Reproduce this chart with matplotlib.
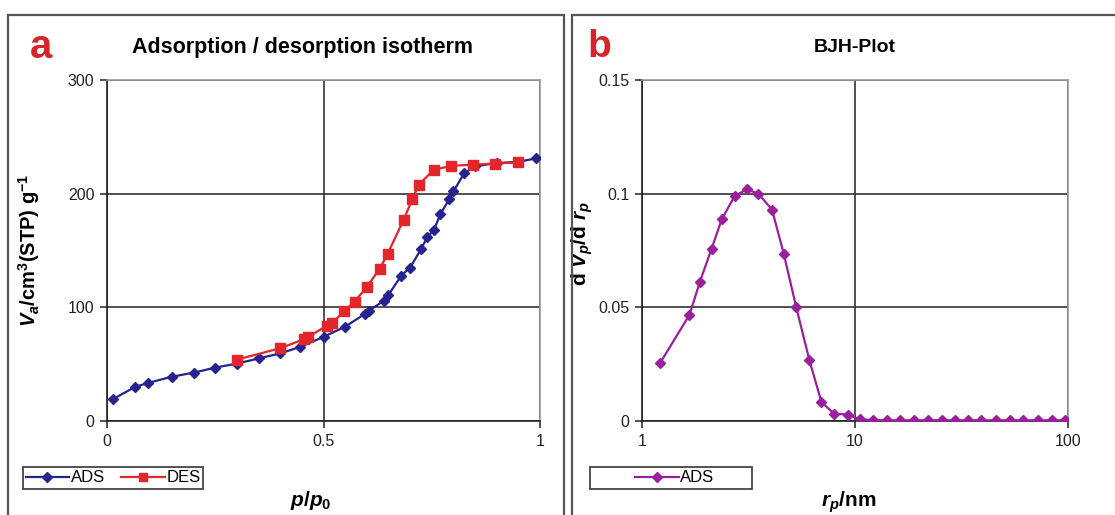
import matplotlib
matplotlib.use("Agg")
import matplotlib.pyplot as plt
from matplotlib.lines import Line2D
from matplotlib.patches import Rectangle

plt.rcParams["font.family"] = ["Liberation Sans", "DejaVu Sans"]
plt.rcParams["mathtext.fontset"] = "custom"
plt.rcParams["mathtext.rm"] = "Liberation Sans:bold"
plt.rcParams["mathtext.it"] = "Liberation Sans:bold:italic"
plt.rcParams["mathtext.bf"] = "Liberation Sans:bold"

# panel a: adsorption / desorption isotherm
ads_p = [0.015, 0.065, 0.095, 0.15, 0.2, 0.25, 0.3, 0.35, 0.4, 0.445, 0.5, 0.55,
         0.595, 0.605, 0.64, 0.65, 0.68, 0.7, 0.725, 0.74, 0.755, 0.77, 0.79, 0.8,
         0.825, 0.85, 0.9, 0.95, 0.99]
ads_v = [19.5, 30, 33.5, 39, 42.5, 47, 50.5, 55, 59.5, 65, 74, 83,
         94, 97, 106, 111, 128, 135, 151, 162, 168, 182, 195, 202,
         218, 224, 227, 228, 231]
des_p = [0.95, 0.895, 0.845, 0.795, 0.755, 0.72, 0.705, 0.685, 0.648, 0.63, 0.6,
         0.572, 0.547, 0.52, 0.508, 0.465, 0.455, 0.4, 0.3]
des_v = [227.5, 226.5, 225.5, 224.5, 221, 208, 195, 177, 147, 134, 118,
         105, 96.5, 86, 84, 74, 72, 64, 54]

# panel b: BJH pore size distribution
bjh_r = [1.22, 1.67, 1.87, 2.12, 2.37, 2.72, 3.1, 3.52, 4.08, 4.63, 5.29, 6.11,
         6.96, 7.98, 9.27, 10.5, 12.2, 14.1, 16.3, 19.0, 22.1, 25.5, 29.4, 33.9,
         39.2, 45.9, 53.5, 61.8, 72.1, 83.9, 97.0]
bjh_d = [0.0257, 0.0467, 0.0612, 0.0757, 0.0888, 0.0989, 0.1019, 0.1, 0.0929, 0.0735,
         0.0503, 0.0267, 0.0083, 0.0032, 0.0028, 0.0007, 0.0004, 0.0003, 0.0003, 0.0003,
         0.0003, 0.0003, 0.0003, 0.0003, 0.0003, 0.0003, 0.0003, 0.0003, 0.0003, 0.0003,
         0.0003]

a_xticks = [0, 0.5, 1]
a_xlabels = ["0", "0.5", "1"]
a_yticks = [0, 100, 200, 300]
a_ylabels = ["0", "100", "200", "300"]
b_xticks = [1, 10, 100]
b_xlabels = ["1", "10", "100"]
b_yticks = [0, 0.05, 0.1, 0.15]
b_ylabels = ["0", "0.05", "0.1", "0.15"]

BLUE = "#26238f"
RED = "#e3262c"
PURPLE = "#9a1f9c"
W, H = 1115, 515

fig = plt.figure(figsize=(W / 100, H / 100), dpi=100)
fig.patch.set_facecolor("white")

# panel frames
for x0, x1 in [(8, 564), (572, 1125)]:
    fig.add_artist(Rectangle((x0 / W, -0.05), (x1 - x0) / W, 1.05 - 15 / H,
                             transform=fig.transFigure, fill=False,
                             edgecolor="#555555", lw=1.6))


def style(ax):
    ax.grid(True, color="#333333", lw=1.2)
    ax.set_axisbelow(True)
    for s in ["left", "bottom"]:
        ax.spines[s].set_color("#222222")
        ax.spines[s].set_linewidth(1.2)
    for s in ["top", "right"]:
        ax.spines[s].set_color("#999999")
        ax.spines[s].set_linewidth(1.2)
    ax.tick_params(direction="out", length=5, width=1.1, colors="#222222",
                   labelsize=11.5, pad=4)
    ax.tick_params(which="minor", length=0)


ax1 = fig.add_axes([107 / W, 1 - 421 / H, 433 / W, 341 / H])
ax1.plot(ads_p, ads_v, color=BLUE, lw=1.6, marker="D", ms=5.5, zorder=3)
ax1.plot(des_p, des_v, color=RED, lw=1.6, marker="s", ms=6.5, zorder=4)
ax1.set_xlim(0, 1)
ax1.set_ylim(0, 300)
ax1.set_xticks(a_xticks, a_xlabels)
ax1.set_yticks(a_yticks, a_ylabels)
style(ax1)
ax1.set_ylabel(r"$V_a$/cm$^3$(STP) g$^{-1}$", fontsize=14.5, fontweight="bold")
ax1.yaxis.set_label_coords(-0.15, 0.5)
ax1.set_xlabel(r"$p$/$p$$_{\mathrm{0}}$", fontsize=15, fontweight="bold")
ax1.xaxis.set_label_coords(0.47, -0.2)

ax2 = fig.add_axes([642 / W, 1 - 421 / H, 426 / W, 341 / H])
ax2.plot(bjh_r, bjh_d, color=PURPLE, lw=1.6, marker="D", ms=5.5, zorder=3)
ax2.set_xscale("log")
ax2.set_xlim(1, 100)
ax2.set_ylim(0, 0.15)
ax2.set_xticks(b_xticks, b_xlabels)
ax2.set_yticks(b_yticks, b_ylabels)
style(ax2)
ax2.set_ylabel(r"d $V_p$/d $r_p$", fontsize=15, fontweight="bold")
ax2.yaxis.set_label_coords(-0.11, 0.52)
ax2.set_xlabel(r"$r_p$/nm", fontsize=15, fontweight="bold")
ax2.xaxis.set_label_coords(0.485, -0.2)

# titles and panel letters
fig.text(303 / W, 1 - 47 / H, "Adsorption / desorption isotherm", ha="center",
         va="center", fontsize=15.5, fontweight="bold")
fig.text(855 / W, 1 - 47 / H, "BJH-Plot", ha="center", va="center",
         fontsize=14, fontweight="bold")
fig.text(30 / W, 1 - 47 / H, "a", ha="left", va="center", fontsize=29,
         fontweight="bold", color="#d8232a")
fig.text(587 / W, 1 - 47 / H, "b", ha="left", va="center", fontsize=28,
         fontweight="bold", color="#d8232a")

# legends
fig.add_artist(Rectangle((23 / W, 1 - 489 / H), 180 / W, 22 / H,
                         transform=fig.transFigure, fill=False,
                         edgecolor="#444444", lw=1.3))
fig.add_artist(Rectangle((590 / W, 1 - 489 / H), 162 / W, 22 / H,
                         transform=fig.transFigure, fill=False,
                         edgecolor="#444444", lw=1.3))
h_ads = Line2D([], [], color=BLUE, lw=1.6, marker="D", ms=5)
h_des = Line2D([], [], color=RED, lw=1.6, marker="s", ms=6)
h_bjh = Line2D([], [], color=PURPLE, lw=1.6, marker="D", ms=5)
fig.legend([h_ads, h_des], ["ADS", "DES"], loc="center", ncol=2, frameon=False,
           bbox_to_anchor=(113 / W, 1 - 478 / H), fontsize=12, handlelength=2.6,
           handletextpad=0.1, columnspacing=1.0)
fig.legend([h_bjh], ["ADS"], loc="center", frameon=False,
           bbox_to_anchor=(675 / W, 1 - 478 / H), fontsize=12, handlelength=2.6,
           handletextpad=0.1)

fig.savefig("out.png", dpi=100)
